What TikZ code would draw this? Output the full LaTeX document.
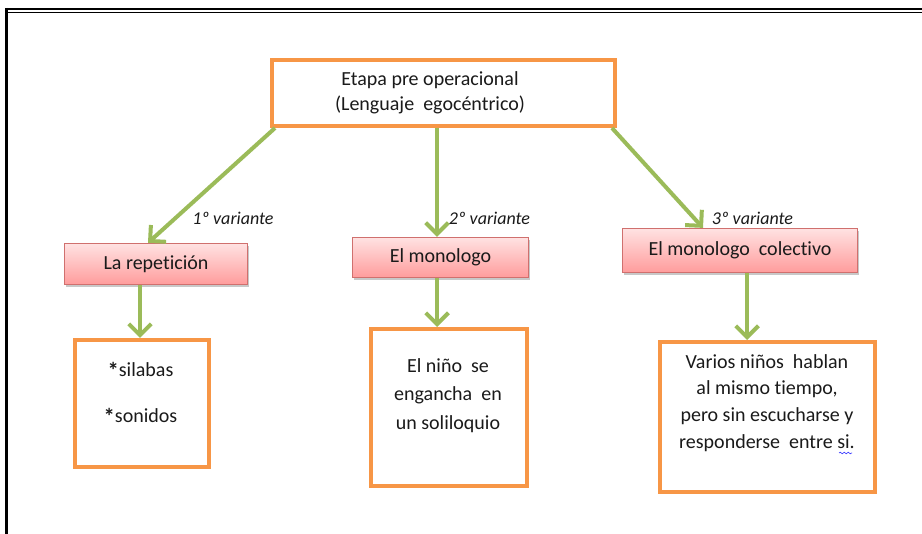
\documentclass[tikz,border=0pt]{standalone}
\usepackage{fontspec}
\setmainfont[Ligatures=NoCommon]{Carlito}
\usetikzlibrary{arrows.meta,shadows,calc,decorations.pathmorphing}
\definecolor{orng}{HTML}{F79646}
\definecolor{grn}{HTML}{9BBB59}
\definecolor{pinktop}{HTML}{FFE2E2}
\definecolor{pinkbot}{HTML}{FF9C9C}
\definecolor{pinkline}{HTML}{D0706E}
\definecolor{txtc}{HTML}{1A1A1A}
\newcommand{\bigast}{\raisebox{-1.5pt}{\fontsize{17}{17}\selectfont\bfseries *}}
\begin{document}
\begin{tikzpicture}[x=0.75pt,y=-0.75pt,
  obox/.style={draw=orng,line width=3pt,fill=white,inner sep=0pt},
  pbox/.style={draw=pinkline,line width=0.9pt,top color=pinktop,bottom color=pinkbot,
    drop shadow={shadow xshift=1.2pt,shadow yshift=-2.2pt,opacity=0.3,fill=black!70},
    font=\fontsize{15}{17}\selectfont,text=txtc,inner sep=0pt},
  txt/.style={align=center,inner sep=0pt,text=txtc},
  lbl/.style={font=\fontsize{13.5}{16}\selectfont\itshape,text=txtc,inner sep=0pt},
  garrow/.style={draw=grn,line width=3pt,-{Straight Barb[length=8.5pt,width=17pt]}}
]
\useasboundingbox (0,0) rectangle (922,534);
\fill[white] (0,0) rectangle (922,534);
% frame
\draw[line width=1.6pt] (5,9) -- (922,9);
\draw[line width=1pt] (7.3,12.7) -- (922,12.7);
\draw[line width=2.1pt] (6.2,8) -- (6.2,534);

% top box
\node[obox,minimum width=257.25pt,minimum height=49.5pt] (top) at (443.5,93) {};
\node[txt,font=\fontsize{15}{18.75}\selectfont] (toptxt) at (430,92.5) {Etapa pre operacional\\(Lenguaje\ \ egocéntrico)};

% pink boxes
\node[pbox,minimum width=137.25pt,minimum height=30.75pt] (rep) at (156,264) {La repetición};
\node[pbox,minimum width=132pt,minimum height=30pt] (mono) at (440.5,257.5) {El monologo};
\node[pbox,minimum width=176.25pt,minimum height=33pt] (col) at (740,250.5) {El monologo\ \ colectivo};

% bottom boxes
\node[obox,minimum width=100.5pt,minimum height=95.25pt] (sil) at (142,403.5) {};
\node[txt,font=\fontsize{15}{35}\selectfont] (siltxt) at (140.5,393.5) {\bigast silabas\\\bigast sonidos};
\node[obox,minimum width=117pt,minimum height=117.75pt] (nino) at (449,407.5) {};
\node[txt,font=\fontsize{15}{21.4}\selectfont] (ninotxt) at (448,395.5) {El niño\ \ se\\engancha\ \ en\\un soliloquio};
\node[obox,minimum width=161.25pt,minimum height=112.5pt] (var) at (767.5,417) {};
\node[txt,font=\fontsize{15}{20}\selectfont] (vartxt) at (767,403) {Varios niños\ \ hablan\\al mismo tiempo,\\pero sin escucharse y\\responderse\ \ entre si.};
\draw[blue!75!white,line width=0.5pt,decorate,decoration={snake,amplitude=0.6pt,segment length=3pt}] (839,453) -- (852,453);

% arrows
\draw[garrow] ($(top.south west)+(5,0)$) -- ($(rep.north)+(-8,0)$);
\draw[garrow] ($(mono.north |- top.south)+(-3.5,0)$) -- ($(mono.north)+(-3.5,0)$);
\draw[garrow] ($(top.south east)+(-5,0)$) -- ($(col.north)+(-37,0)$);
\draw[garrow] ($(rep.south)+(-16,0)$) -- ($(sil.north)+(-2,0)$);
\draw[garrow] ($(mono.south)+(-3.5,0)$) -- ($(nino.north)+(-12,0)$);
\draw[garrow] ($(col.south)+(7,0)$) -- ($(var.north)+(-20.5,0)$);

% labels
\node[lbl] (l1) at (233,218) {1º variante};
\node[lbl] (l2) at (489.5,218) {2º variante};
\node[lbl] (l3) at (752.5,218) {3º variante};
\end{tikzpicture}
\end{document}
